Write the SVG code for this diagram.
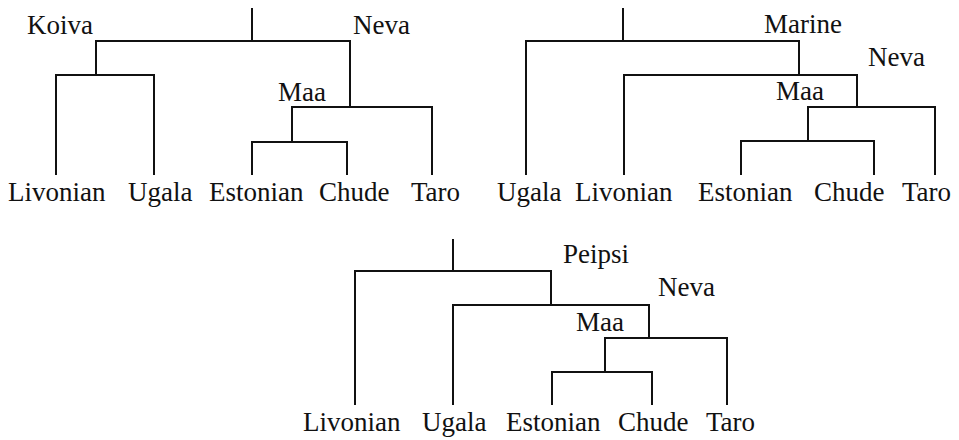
<svg xmlns="http://www.w3.org/2000/svg" width="959" height="440" viewBox="0 0 959 440">
<style>
.t{font-family:"Liberation Serif","Times New Roman",serif;font-size:27px;fill:#111;}
.c{fill:none;stroke:#111;stroke-width:2;stroke-linejoin:miter;stroke-linecap:butt;}
</style>
<rect width="959" height="440" fill="#fff"/>
<g id="connectors">
  <path class="c" d="M252,8 V41 M96,75 V41 H350 V107 M56,175 V75 H154 V175 M292,142 V107 H432 V175 M252,175 V142 H347 V175"/>
  <path class="c" d="M623,8 V41 M526,175 V41 H799 V75 M624,175 V75 H857 V107 M808,141 V107 H935 V175 M741,175 V141 H874 V175"/>
  <path class="c" d="M453,239 V271 M355,405 V271 H551 V305 M453,405 V305 H649 V338 M605,372 V338 H727 V405 M552,405 V372 H652 V405"/>
</g>
<g id="t1-koiva"><text class="t" x="27" y="34">Koiva</text></g>
<g id="t1-neva"><text class="t" x="353" y="34">Neva</text></g>
<g id="t1-maa"><text class="t" x="278" y="101">Maa</text></g>
<g id="t1-livonian"><text class="t" x="8" y="201">Livonian</text></g>
<g id="t1-ugala"><text class="t" x="128" y="201">Ugala</text></g>
<g id="t1-estonian"><text class="t" x="209" y="201">Estonian</text></g>
<g id="t1-chude"><text class="t" x="319" y="201">Chude</text></g>
<g id="t1-taro"><text class="t" x="411" y="201">Taro</text></g>

<g id="t2-marine"><text class="t" x="764" y="33">Marine</text></g>
<g id="t2-neva"><text class="t" x="868" y="66">Neva</text></g>
<g id="t2-maa"><text class="t" x="776" y="100">Maa</text></g>
<g id="t2-ugala"><text class="t" x="497" y="201">Ugala</text></g>
<g id="t2-livonian"><text class="t" x="575" y="201">Livonian</text></g>
<g id="t2-estonian"><text class="t" x="698" y="201">Estonian</text></g>
<g id="t2-chude"><text class="t" x="814" y="201">Chude</text></g>
<g id="t2-taro"><text class="t" x="902" y="201">Taro</text></g>

<g id="t3-peipsi"><text class="t" x="563" y="263">Peipsi</text></g>
<g id="t3-neva"><text class="t" x="658" y="296">Neva</text></g>
<g id="t3-maa"><text class="t" x="576" y="331">Maa</text></g>
<g id="t3-livonian"><text class="t" x="303" y="431">Livonian</text></g>
<g id="t3-ugala"><text class="t" x="422" y="431">Ugala</text></g>
<g id="t3-estonian"><text class="t" x="506" y="431">Estonian</text></g>
<g id="t3-chude"><text class="t" x="618" y="431">Chude</text></g>
<g id="t3-taro"><text class="t" x="706" y="431">Taro</text></g>
</svg>
